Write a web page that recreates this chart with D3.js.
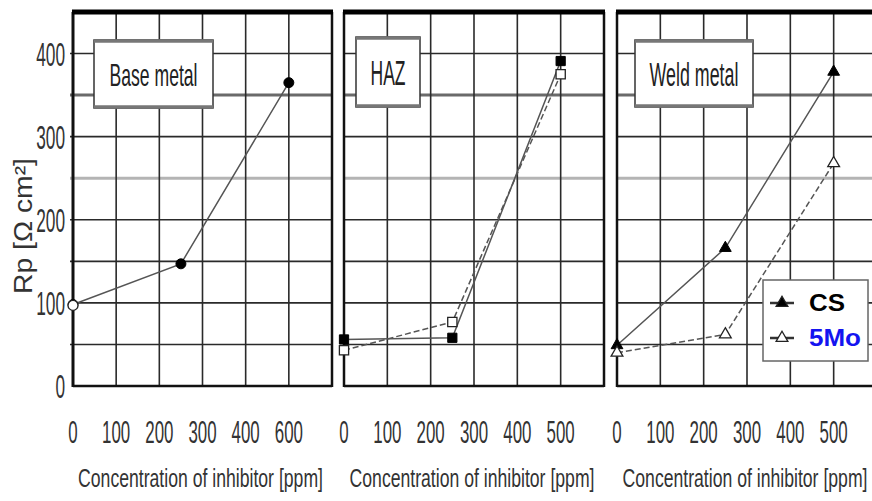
<!DOCTYPE html>
<html>
<head>
<meta charset="utf-8">
<script src="https://cdn.jsdelivr.net/npm/d3@7"></script>
<style>
  html, body { margin: 0; padding: 0; background: #fff; }
  svg { display: block; }
</style>
</head>
<body>
<svg id="chart" width="872" height="501"></svg>
<script>
// ---------- data ----------
const categories = [0, 250, 500];                 // inhibitor concentration (ppm)
const panelNames = ["Base metal", "HAZ", "Weld metal"];
const seriesNames = ["CS", "5Mo"];
const csBase = [98, 147, 365];
const moBase = [97, null, null];
const csHaz  = [56, 58, 391];
const moHaz  = [43, 77, 375];
const csWeld = [49, 166, 378];
const moWeld = [40, 62, 268];
const xTicks = [0, 100, 200, 300, 400, 500];
const xTickLabelsBase = ["0", "100", "200", "300", "400", "600"];
const xTickLabels = ["0", "100", "200", "300", "400", "500"];
const yTicks = [0, 100, 200, 300, 400];
const gridY = [50, 100, 150, 200, 250, 300, 350, 400];
const gridX = [100, 200, 300, 400, 500];
const xTitle = "Concentration of inhibitor [ppm]";
const yTitle = "Rp [Ω cm²]";

// ---------- layout (not data) ----------
const panelRanges = [[73, 332], [344, 604], [617, 877]];
const plotTop = 12, plotBottom = 386;
const boxes = [ {dx: 21, y: 40, w: 119, h: 68, fs: 32, tl: 88},
                {dx: 12, y: 37, w: 64,  h: 70, fs: 36, tl: 35},
                {dx: 18, y: 40, w: 118, h: 67, fs: 34, tl: 89} ];
const symbols = [d3.symbolCircle, d3.symbolSquare, d3.symbolTriangle];
const symbolSizes = [78, 85, 60];
const panelData = [[csBase, moBase], [csHaz, moHaz], [csWeld, moWeld]];

const svg = d3.select("#chart");
const FONT = "'Liberation Sans', Arial, sans-serif";
const y = d3.scaleLinear().domain([0, 450]).range([plotBottom, plotTop]);

// draws a horizontally condensed text fitted to a target width
function fitText(parent, str, x, yy, target, fs, anchor, color, extra) {
  const t = parent.append("text").attr("x", 0).attr("y", 0)
    .attr("text-anchor", anchor).attr("font-family", FONT).attr("font-size", fs)
    .attr("fill", color).text(str);
  const len = t.node().getComputedTextLength() || 1;
  const s = target / len;
  t.attr("transform", `translate(${x},${yy})${extra || ""} scale(${s},1)`);
  return t;
}

panelNames.forEach((name, pi) => {
  const x = d3.scaleLinear().domain([0, 600]).range(panelRanges[pi]);
  const g = svg.append("g");
  const [x0, x1] = panelRanges[pi];

  // horizontal grid
  g.selectAll("line.hg").data(gridY).enter().append("line")
    .attr("x1", pi === 0 ? x0 - 3 : x0).attr("x2", x1)
    .attr("y1", d => y(d)).attr("y2", d => y(d))
    .attr("stroke", d => d === 350 ? "#6a6a6a" : d === 250 ? "#b4b4b4" : "#2a2a2a")
    .attr("stroke-width", d => (d === 350 || d === 250) ? 3 : 1.6);

  // vertical grid
  g.selectAll("line.vg").data(gridX).enter().append("line")
    .attr("x1", d => x(d)).attr("x2", d => x(d))
    .attr("y1", plotTop).attr("y2", plotBottom)
    .attr("stroke", "#2a2a2a").attr("stroke-width", 1.6);

  // frame
  g.append("line").attr("x1", x0).attr("x2", x0).attr("y1", plotTop).attr("y2", plotBottom + 1)
    .attr("stroke", "#111").attr("stroke-width", pi === 0 ? 3 : 2.5);
  g.append("line").attr("x1", x1).attr("x2", x1).attr("y1", plotTop).attr("y2", plotBottom + 1)
    .attr("stroke", "#111").attr("stroke-width", 2.5);
  g.append("line").attr("x1", x0).attr("x2", x1).attr("y1", plotBottom).attr("y2", plotBottom)
    .attr("stroke", "#111").attr("stroke-width", 2.5);
  g.append("line").attr("x1", x0 - 1).attr("x2", x1 + 1).attr("y1", plotTop).attr("y2", plotTop)
    .attr("stroke", "#000").attr("stroke-width", 5);

  // title box
  const b = boxes[pi];
  const bx = x0 + b.dx;
  g.append("rect").attr("x", bx).attr("y", b.y).attr("width", b.w).attr("height", b.h)
    .attr("fill", "#fff").attr("stroke", "#333").attr("stroke-width", 1.5);
  g.append("line").attr("x1", bx).attr("x2", bx + b.w).attr("y1", b.y + 1).attr("y2", b.y + 1)
    .attr("stroke", "#777").attr("stroke-width", 3.5);
  g.append("line").attr("x1", bx).attr("x2", bx + b.w).attr("y1", b.y + b.h - 1).attr("y2", b.y + b.h - 1)
    .attr("stroke", "#777").attr("stroke-width", 3.5);
  fitText(g, name, bx + b.w / 2, b.y + b.h / 2 + b.fs * 0.36, b.tl, b.fs, "middle", "#222");

  // series lines
  const [cs, mo] = panelData[pi];
  const line = d3.line().defined(d => d[1] !== null).x(d => x(d[0])).y(d => y(d[1]));
  const csPts = categories.map((c, i) => [c, cs[i]]);
  const moPts = categories.map((c, i) => [c, mo[i]]);
  g.append("path").attr("d", line(csPts)).attr("fill", "none")
    .attr("stroke", "#555").attr("stroke-width", 1.5);
  g.append("path").attr("d", line(moPts)).attr("fill", "none")
    .attr("stroke", "#555").attr("stroke-width", 1.5).attr("stroke-dasharray", "6,3");

  const sym = d3.symbol().type(symbols[pi]).size(symbolSizes[pi]);
  g.selectAll("path.cs").data(csPts.filter(d => d[1] !== null)).enter().append("path")
    .attr("d", sym).attr("transform", d => `translate(${x(d[0])},${y(d[1])})`)
    .attr("fill", "#000").attr("stroke", "#000").attr("stroke-width", 1);
  g.selectAll("path.mo").data(moPts.filter(d => d[1] !== null)).enter().append("path")
    .attr("d", sym).attr("transform", d => `translate(${x(d[0])},${y(d[1])})`)
    .attr("fill", "#fff").attr("stroke", "#222").attr("stroke-width", 1.3);

  // x tick labels
  const labels = pi === 0 ? xTickLabelsBase : xTickLabels;
  xTicks.forEach((d, i) => {
    fitText(g, labels[i], x(d), 443, labels[i].length * 9.4, 32, "middle", "#333");
  });

  // x title
  fitText(g, xTitle, (x0 + x1) / 2 - 2, 487, 245, 26, "middle", "#333");

  // y tick labels (first panel only)
  if (pi === 0) {
    yTicks.forEach(d => {
      fitText(g, String(d), 65, y(d) + 12, String(d).length * 9.6, 34, "end", "#333");
    });
    fitText(g, yTitle, 32, 226, 136, 25, "middle", "#333", " rotate(-90)");
  }
});

// ---------- legend ----------
const lg = svg.append("g");
lg.append("rect").attr("x", 763).attr("y", 280).attr("width", 105).attr("height", 81)
  .attr("fill", "#fff").attr("stroke", "#666").attr("stroke-width", 1.5);
const legSym = d3.symbol().type(d3.symbolTriangle).size(60);
seriesNames.forEach((s, i) => {
  const ly = 303 + i * 35;
  lg.append("line").attr("x1", 770).attr("x2", 794).attr("y1", ly).attr("y2", ly)
    .attr("stroke", "#333").attr("stroke-width", 2.5);
  lg.append("path").attr("d", legSym).attr("transform", `translate(782,${ly})`)
    .attr("fill", i === 0 ? "#000" : "#fff").attr("stroke", "#222").attr("stroke-width", 1.3);
  lg.append("text").attr("x", 809).attr("y", ly + 8)
    .attr("font-family", FONT).attr("font-weight", "bold")
    .attr("font-size", 24).attr("fill", i === 0 ? "#000" : "#1414f0")
    .attr("textLength", i === 0 ? 36 : 52).attr("lengthAdjust", "spacingAndGlyphs")
    .text(s);
});
</script>
</body>
</html>
